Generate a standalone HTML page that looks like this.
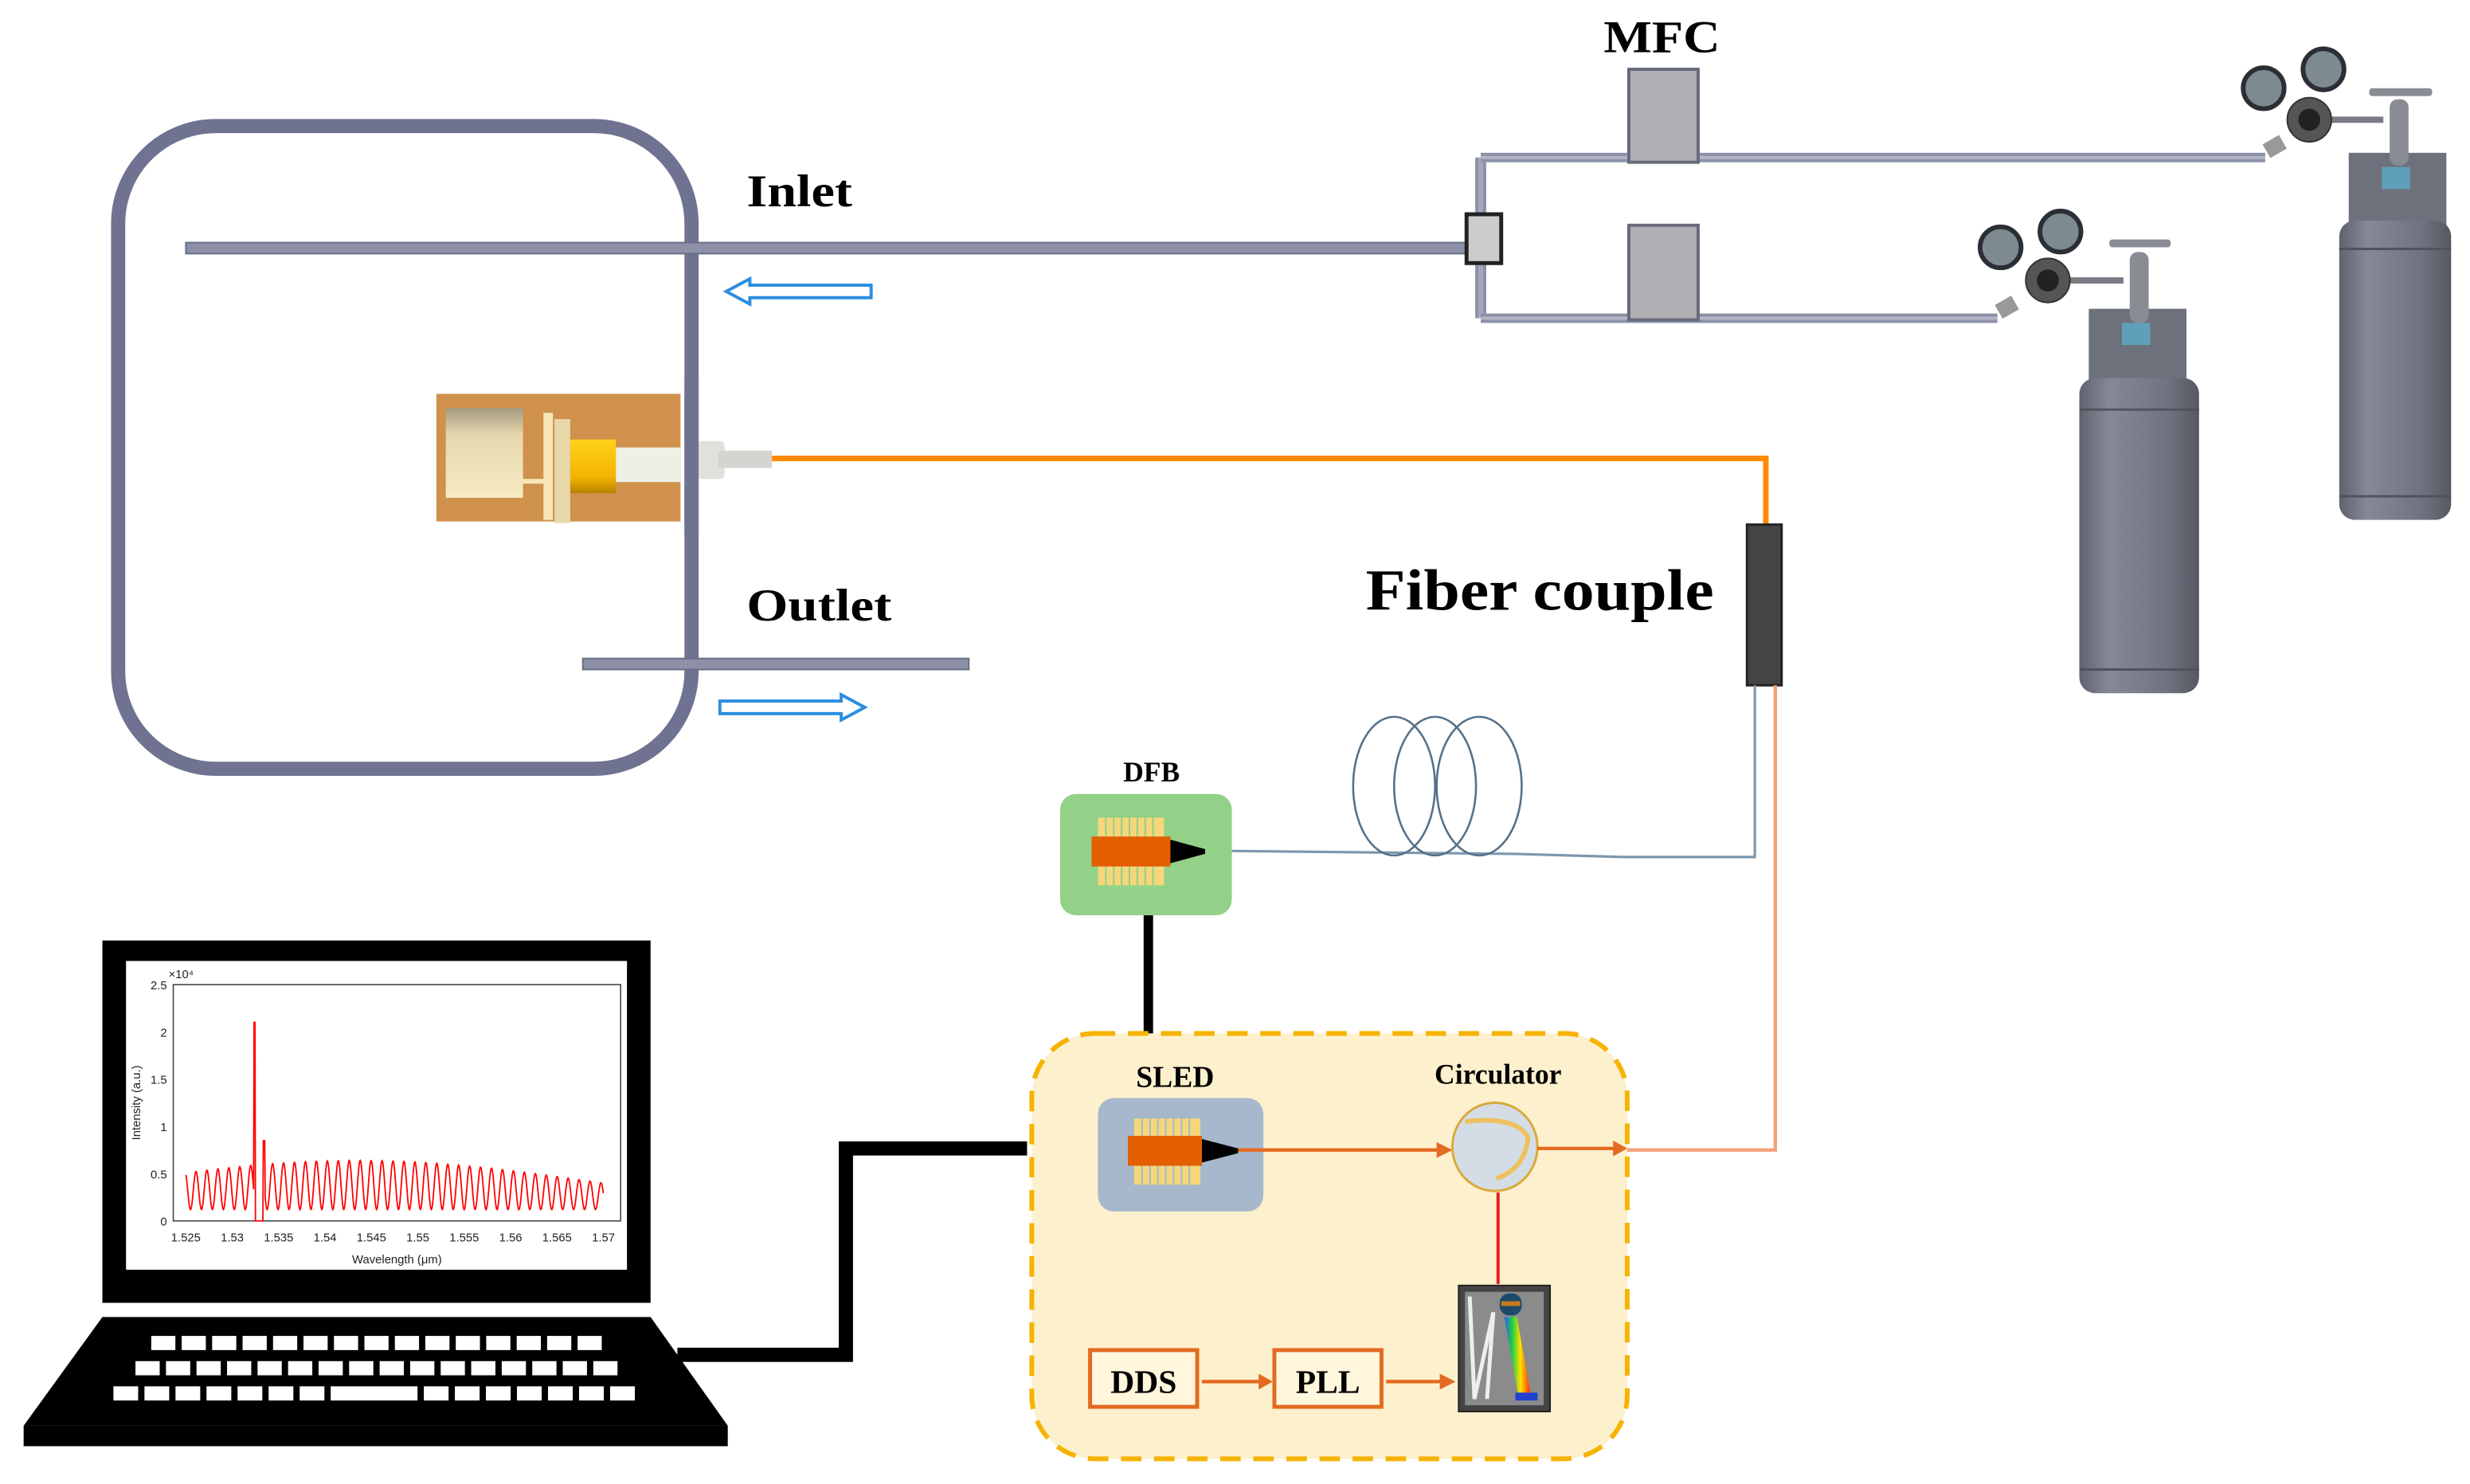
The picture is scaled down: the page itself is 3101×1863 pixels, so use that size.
<!DOCTYPE html>
<html><head><meta charset="utf-8"><style>
html,body{margin:0;padding:0;background:#fff;}
svg{display:block;}
text{font-family:"Liberation Serif",serif;font-weight:bold;}
.pl text{font-family:"Liberation Sans",sans-serif;font-weight:normal;}
</style></head><body>
<svg width="3101" height="1863" viewBox="0 0 1568 942" preserveAspectRatio="none" xmlns="http://www.w3.org/2000/svg">
<defs>
<linearGradient id="cyl" x1="0" x2="1" y1="0" y2="0">
<stop offset="0" stop-color="#5f636e"/><stop offset="0.25" stop-color="#858996"/><stop offset="0.5" stop-color="#7a7e8b"/><stop offset="0.75" stop-color="#6e727e"/><stop offset="1" stop-color="#555862"/></linearGradient>
<linearGradient id="cream" x1="0" x2="0" y1="0" y2="1"><stop offset="0" stop-color="#a59a80"/><stop offset="0.3" stop-color="#e6d6ad"/><stop offset="1" stop-color="#f7ebc4"/></linearGradient>
<linearGradient id="gold" x1="0" x2="0" y1="0" y2="1"><stop offset="0" stop-color="#ffd21a"/><stop offset="0.7" stop-color="#f2b400"/><stop offset="1" stop-color="#b88300"/></linearGradient>
<linearGradient id="rainbow" x1="0" x2="1"><stop offset="0" stop-color="#2a5cff"/><stop offset="0.3" stop-color="#20d040"/><stop offset="0.6" stop-color="#ffe000"/><stop offset="1" stop-color="#ff2000"/></linearGradient>
</defs>

<rect x="75" y="80" width="364" height="408" rx="62" fill="none" stroke="#6f7391" stroke-width="9"/>
<rect x="118" y="154" width="818" height="7" fill="#8d91a8" stroke="#6a6e86" stroke-width="1"/>
<text x="474" y="131" font-size="29" textLength="67" lengthAdjust="spacingAndGlyphs">Inlet</text>
<path d="M553 181 H476 V177 L461 185 L476 193 V189 H553 Z" fill="#fff" stroke="#2c8ee0" stroke-width="2"/>
<rect x="370" y="418" width="245" height="7" fill="#8d91a8" stroke="#6a6e86" stroke-width="1"/>
<text x="474" y="394" font-size="29" textLength="92" lengthAdjust="spacingAndGlyphs">Outlet</text>
<path d="M457 445 H534 V441 L549 449 L534 457 V453 H457 Z" fill="#fff" stroke="#2c8ee0" stroke-width="2"/>

<rect x="277" y="250" width="155" height="81" fill="#cf914b"/>
<rect x="283" y="259" width="49" height="57" fill="url(#cream)"/>
<rect x="345" y="262" width="6" height="68" fill="#f6e6b8"/>
<rect x="332" y="304" width="14" height="3" fill="#f6e6b8"/>
<rect x="352" y="266" width="10" height="66" fill="#e8d8a8"/>
<rect x="362" y="279" width="29" height="34" fill="url(#gold)"/>
<rect x="391" y="284" width="41" height="22" fill="#eef0e6"/>
<rect x="442" y="280" width="18" height="24" fill="#e0e0dc" rx="3"/>
<rect x="456" y="286" width="34" height="11" fill="#d4d4d0"/>
<rect x="434.5" y="240" width="9" height="100" fill="#6f7391"/>

<path d="M490 291 H1121 V333" fill="none" stroke="#ff8a00" stroke-width="3.5"/>
<rect x="1109" y="333" width="22" height="102" fill="#444" stroke="#222" stroke-width="1.5"/>
<text x="867" y="387" font-size="37" textLength="221" lengthAdjust="spacingAndGlyphs">Fiber couple</text>

<path d="M1114 435 V544 H1030 L960 542 L765 540" fill="none" stroke="#7d97ad" stroke-width="1.6"/>
<ellipse cx="885" cy="499" rx="26" ry="44" fill="none" stroke="#55718a" stroke-width="1.3"/>
<ellipse cx="911" cy="499" rx="26" ry="44" fill="none" stroke="#55718a" stroke-width="1.3"/>
<ellipse cx="939" cy="499" rx="27" ry="44" fill="none" stroke="#55718a" stroke-width="1.3"/>
<path d="M1127 435 V730 H1030" fill="none" stroke="#f3a07a" stroke-width="2.2"/>

<text x="731" y="496" font-size="18" text-anchor="middle">DFB</text>
<rect x="673" y="504" width="109" height="77" rx="10" fill="#93d088"/>
<g fill="#f4d77a">
<rect x="697" y="519" width="42" height="14"/><rect x="697" y="548" width="42" height="14"/>
</g>
<g stroke="#93d088" stroke-width="1"><path d="M702 519V562M707 519V562M712 519V562M717 519V562M722 519V562M727 519V562M732 519V562"/></g>
<rect x="693" y="531" width="50" height="19" fill="#e35f00"/>
<path d="M743 533 L765 539 L765 542 L743 548 Z" fill="#000"/>
<rect x="726" y="581" width="6" height="75" fill="#000"/>

<rect x="655" y="656" width="378" height="270" rx="40" fill="#fdf0cd" stroke="#f6b300" stroke-width="3" stroke-dasharray="13 8"/>
<text x="746" y="690" font-size="19" text-anchor="middle">SLED</text>
<text x="951" y="688" font-size="18" text-anchor="middle">Circulator</text>
<rect x="697" y="697" width="105" height="72" rx="10" fill="#a8b8cc"/>
<g fill="#f4d77a">
<rect x="720" y="710" width="42" height="14"/><rect x="720" y="738" width="42" height="14"/>
</g>
<g stroke="#a8b8cc" stroke-width="1"><path d="M725 710V752M730 710V752M735 710V752M740 710V752M745 710V752M750 710V752M755 710V752"/></g>
<rect x="716" y="721" width="47" height="19" fill="#e35f00"/>
<path d="M763 723 L786 729 L786 732 L763 738 Z" fill="#000"/>
<path d="M786 730 H913" stroke="#e36a20" stroke-width="2.2"/>
<path d="M912 725 L922 730 L912 735 Z" fill="#e36a20"/>
<ellipse cx="949" cy="728" rx="27" ry="28" fill="#d4dde6" stroke="#d9a93b" stroke-width="1.5"/>
<path d="M930 712 Q962 708 970 722 Q968 742 950 748" fill="none" stroke="#eec060" stroke-width="3"/>
<path d="M976 729 H1026" stroke="#e36a20" stroke-width="2.2"/>
<path d="M1024 724 L1033 729 L1024 734 Z" fill="#e36a20"/>
<path d="M951 757 V815" stroke="#e02020" stroke-width="2"/>
<rect x="926" y="816" width="58" height="80" fill="#444" stroke="#222"/>
<rect x="930" y="820" width="50" height="72" fill="#8b8b8b"/>
<path d="M933 823 L936 888 L948 833 L944 888" fill="none" stroke="#eee" stroke-width="2.5"/>
<rect x="952" y="821" width="14" height="14" rx="6" fill="#1d4a6a"/>
<rect x="953" y="826" width="12" height="3" fill="#c87a20"/>
<path d="M955 836 L963 836 L972 887 L964 887 Z" fill="url(#rainbow)"/>
<rect x="962" y="884" width="14" height="5" fill="#2040d0"/>
<rect x="692" y="857" width="68" height="36" fill="#fff6dc" stroke="#e36a20" stroke-width="2.5"/>
<text x="726" y="884" font-size="21" text-anchor="middle">DDS</text>
<rect x="809" y="857" width="68" height="36" fill="#fff6dc" stroke="#e36a20" stroke-width="2.5"/>
<text x="843" y="884" font-size="21" text-anchor="middle">PLL</text>
<path d="M763 877 H800" stroke="#e36a20" stroke-width="2.2"/>
<path d="M799 872 L808 877 L799 882 Z" fill="#e36a20"/>
<path d="M880 877 H916" stroke="#e36a20" stroke-width="2.2"/>
<path d="M914 872 L924 877 L914 882 Z" fill="#e36a20"/>

<path d="M652 729 H537 V860 H430" fill="none" stroke="#000" stroke-width="9"/>

<rect x="65" y="597" width="348" height="230" fill="#000"/>
<rect x="80" y="610" width="318" height="196" fill="#fff"/>
<path d="M65 836 H413 L462 905 H15 Z" fill="#000"/>
<rect x="15" y="905" width="447" height="13" fill="#000"/>
<g fill="#fff" id="keys"></g>

<g class="pl" font-size="7.5" fill="#222">
<rect x="110" y="625" width="284" height="150" fill="none" stroke="#444" stroke-width="0.8"/>
<text x="106" y="628" text-anchor="end">2.5</text>
<text x="106" y="658" text-anchor="end">2</text>
<text x="106" y="688" text-anchor="end">1.5</text>
<text x="106" y="718" text-anchor="end">1</text>
<text x="106" y="748" text-anchor="end">0.5</text>
<text x="106" y="778" text-anchor="end">0</text>
<text x="107" y="621">×10⁴</text>
<text x="89" y="700" transform="rotate(-90 89 700)" text-anchor="middle">Intensity (a.u.)</text>
<text x="252" y="802" text-anchor="middle">Wavelength (μm)</text>
<g id="xl"></g>
<path id="spec" d="" fill="none" stroke="#f00" stroke-width="0.9"/>
</g>

<path d="M940 100 V202" stroke="#8d91a8" stroke-width="7" fill="none"/>
<path d="M940 100 V202" stroke="#a4a8bc" stroke-width="3" fill="none"/>
<rect x="940" y="97" width="498" height="6" fill="#8d91a8"/>
<rect x="940" y="199" width="328" height="6" fill="#8d91a8"/>
<rect x="940" y="99" width="498" height="2" fill="#b3b6c6"/>
<rect x="940" y="201" width="328" height="2" fill="#b3b6c6"/>
<rect x="1034" y="44" width="44" height="59" fill="#b0b0b4" stroke="#666a7a" stroke-width="2"/>
<rect x="1034" y="143" width="44" height="60" fill="#b0b0b4" stroke="#666a7a" stroke-width="2"/>
<rect x="931" y="136" width="22" height="31" fill="#ccc" stroke="#222" stroke-width="2.5"/>
<text x="1055" y="33" font-size="29" text-anchor="middle" textLength="74" lengthAdjust="spacingAndGlyphs">MFC</text>

<g>
<rect x="1326" y="196" width="62" height="46" fill="#6d717c"/>
<rect x="1347" y="205" width="18" height="14" fill="#5fa0b8"/>
<rect x="1320" y="240" width="76" height="200" rx="10" fill="url(#cyl)"/>
<path d="M1320 260 H1396 M1320 425 H1396" stroke="#50535c" stroke-width="1.5"/>
<rect x="1352" y="160" width="12" height="45" rx="5" fill="#8a8c94"/>
<rect x="1339" y="152" width="39" height="5" rx="2" fill="#8a8c94"/>
<path d="M1300 178 H1348" stroke="#7a7c84" stroke-width="4"/>
<circle cx="1300" cy="178" r="14" fill="#555" stroke="#333"/>
<circle cx="1300" cy="178" r="7" fill="#222"/>
<circle cx="1270" cy="157" r="13" fill="#7d8a90" stroke="#2b2f35" stroke-width="3"/>
<circle cx="1308" cy="147" r="13" fill="#7d8a90" stroke="#2b2f35" stroke-width="3"/>
<rect x="1268" y="190" width="12" height="10" fill="#999" transform="rotate(-30 1274 195)"/>
</g>
<g>
<rect x="1491" y="97" width="62" height="46" fill="#6d717c"/>
<rect x="1512" y="106" width="18" height="14" fill="#5fa0b8"/>
<rect x="1485" y="140" width="71" height="190" rx="10" fill="url(#cyl)"/>
<path d="M1485 158 H1556 M1485 315 H1556" stroke="#50535c" stroke-width="1.5"/>
<rect x="1517" y="63" width="12" height="42" rx="5" fill="#8a8c94"/>
<rect x="1504" y="56" width="40" height="5" rx="2" fill="#8a8c94"/>
<path d="M1466 76 H1513" stroke="#7a7c84" stroke-width="4"/>
<circle cx="1466" cy="76" r="14" fill="#555" stroke="#333"/>
<circle cx="1466" cy="76" r="7" fill="#222"/>
<circle cx="1437" cy="56" r="13" fill="#7d8a90" stroke="#2b2f35" stroke-width="3"/>
<circle cx="1475" cy="44" r="13" fill="#7d8a90" stroke="#2b2f35" stroke-width="3"/>
<rect x="1438" y="88" width="12" height="10" fill="#999" transform="rotate(-30 1444 93)"/>
</g>
</svg>
<script>
(function(){
var NS="http://www.w3.org/2000/svg";
function X(w){return 118+(w-1.525)/0.045*265;}
function Y(v){return 775-v*60;}
var d="";
for(var i=0;i<=900;i++){
 var w=1.525+0.045*i/900;
 var t=(w-1.525)/0.045;
 var env=0.4+0.24*Math.sin(Math.PI*(0.15+0.85*t));
 var ph=(w-1.5255)/0.00118*2*Math.PI;
 var v=0.12+(env-0.12)*(0.5-0.5*Math.cos(ph));
 if(w>1.5323&&w<1.5325)v=2.1;
 else if(w>=1.5325&&w<1.5333)v=0;
 else if(w>=1.5333&&w<1.5335)v=0.85;
 d+=(i?"L":"M")+X(w).toFixed(2)+" "+Y(v).toFixed(2);
}
document.getElementById("spec").setAttribute("d",d);
var lb=["1.525","1.53","1.535","1.54","1.545","1.55","1.555","1.56","1.565","1.57"];
var g=document.getElementById("xl");
lb.forEach(function(s,k){var t=document.createElementNS(NS,"text");t.setAttribute("x",118+k*29.45);t.setAttribute("y",788);t.setAttribute("text-anchor","middle");t.textContent=s;g.appendChild(t);});
var kg=document.getElementById("keys");
var rows=[[96,848,15],[86,864,16],[72,880,17]];
rows.forEach(function(r,ri){
 var n=r[2],x0=r[0];
 var span=(ri==0?290:ri==1?310:335);
 var kw=span/n;
 for(var k=0;k<n;k++){
  if(ri==2&&k>6&&k<10)continue;
  var rc=document.createElementNS(NS,"rect");
  rc.setAttribute("x",x0+k*kw);rc.setAttribute("y",r[1]);rc.setAttribute("width",kw-4);rc.setAttribute("height",9);rc.setAttribute("fill","#fff");kg.appendChild(rc);
 }
 if(ri==2){var rc=document.createElementNS(NS,"rect");rc.setAttribute("x",x0+7*kw);rc.setAttribute("y",r[1]);rc.setAttribute("width",3*kw-4);rc.setAttribute("height",9);rc.setAttribute("fill","#fff");kg.appendChild(rc);}
});
})();
</script>
</body></html>
